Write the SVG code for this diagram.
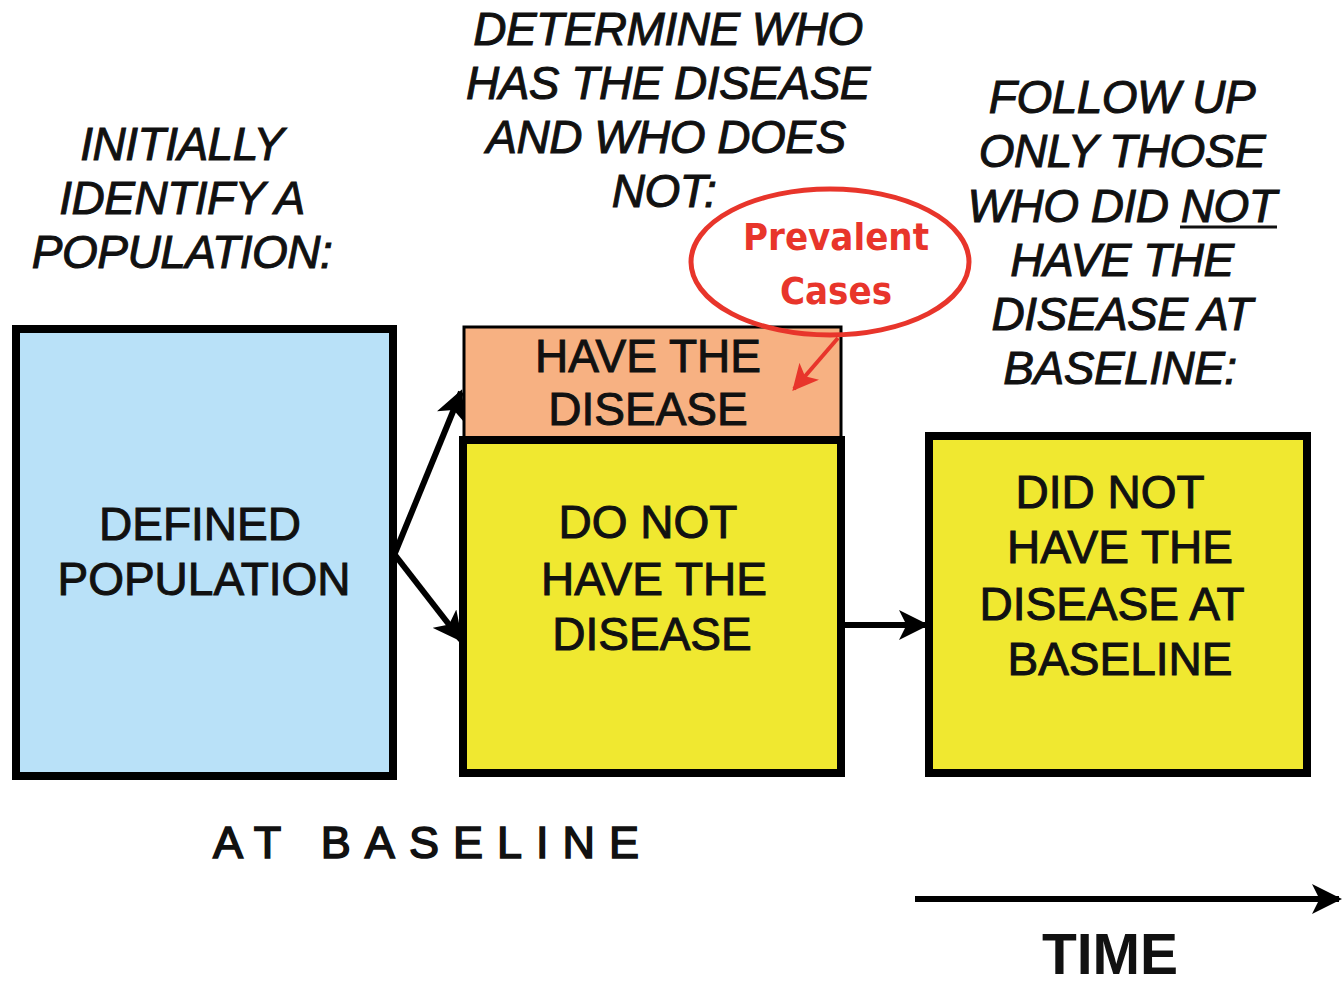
<svg xmlns="http://www.w3.org/2000/svg" width="1342" height="984" viewBox="0 0 1342 984">
<style>
.lbl{font-family:"Liberation Sans",Arial,sans-serif;font-size:46px;font-style:italic;fill:#111;stroke:#111;stroke-width:1;text-anchor:middle;letter-spacing:-0.5px}
.box{font-family:"Liberation Sans",Arial,sans-serif;font-size:46px;fill:#111;stroke:#111;stroke-width:1;text-anchor:middle}
.red{font-family:"DejaVu Sans Condensed","DejaVu Sans",sans-serif;font-weight:bold;font-size:38px;fill:#E8352B;text-anchor:middle}
.conn{stroke:#000;stroke-width:6;fill:none}
</style>
<defs>
<marker id="ah" viewBox="0 0 10 10" refX="9" refY="5" markerWidth="5" markerHeight="5" orient="auto" markerUnits="strokeWidth">
<path d="M0,0 L10,5 L0,10 L2.5,5 Z" fill="#000"/>
</marker>
<marker id="ahr" viewBox="0 0 10 10" refX="9" refY="5" markerWidth="6.5" markerHeight="6.5" orient="auto" markerUnits="strokeWidth">
<path d="M0,0 L10,5 L0,10 L2.5,5 Z" fill="#E8352B"/>
</marker>
</defs>
<rect width="1342" height="984" fill="#fff"/>

<g id="label-initially">
<text class="lbl" x="182" y="160">INITIALLY</text>
<text class="lbl" x="182" y="214">IDENTIFY A</text>
<text class="lbl" x="182" y="268">POPULATION:</text>
</g>
<g id="label-determine">
<text class="lbl" x="668" y="45">DETERMINE WHO</text>
<text class="lbl" x="668" y="99">HAS THE DISEASE</text>
<text class="lbl" x="666" y="153">AND WHO DOES</text>
<text class="lbl" x="664" y="207">NOT:</text>
</g>
<g id="label-follow">
<text class="lbl" x="1122" y="113">FOLLOW UP</text>
<text class="lbl" x="1122" y="167">ONLY THOSE</text>
<text class="lbl" x="1122" y="222">WHO DID NOT</text>
<line x1="1180" y1="227" x2="1277" y2="227" stroke="#111" stroke-width="3"/>
<text class="lbl" x="1122" y="276">HAVE THE</text>
<text class="lbl" x="1122" y="330">DISEASE AT</text>
<text class="lbl" x="1120" y="384">BASELINE:</text>
</g>

<g id="defined-population">
<rect x="16" y="329" width="377" height="447" fill="#B9E1F8" stroke="#000" stroke-width="8"/>
<text class="box" x="200" y="540">DEFINED</text>
<text class="box" x="204" y="595">POPULATION</text>
</g>
<g id="have-disease">
<rect x="464" y="327" width="377" height="112" fill="#F7B182" stroke="#000" stroke-width="3"/>
<text class="box" x="648" y="372">HAVE THE</text>
<text class="box" x="648" y="425">DISEASE</text>
</g>
<g id="do-not-have">
<rect x="463" y="440" width="378" height="333" fill="#F0E830" stroke="#000" stroke-width="8"/>
<text class="box" x="648" y="538">DO NOT</text>
<text class="box" x="654" y="595">HAVE THE</text>
<text class="box" x="652" y="650">DISEASE</text>
</g>
<g id="did-not-have">
<rect x="929" y="436" width="378" height="337" fill="#F0E830" stroke="#000" stroke-width="8"/>
<text class="box" x="1110" y="508">DID NOT</text>
<text class="box" x="1120" y="563">HAVE THE</text>
<text class="box" x="1112" y="620">DISEASE AT</text>
<text class="box" x="1120" y="675">BASELINE</text>
</g>
<g id="prevalent-cases">
<ellipse cx="830" cy="262" rx="139" ry="73" fill="none" stroke="#E8352B" stroke-width="5"/>
<text class="red" x="836" y="250">Prevalent</text>
<text class="red" x="836" y="304">Cases</text>
</g>

<g id="connectors">
<path class="conn" d="M395,553 L461,392" marker-end="url(#ah)"/>
<path class="conn" d="M395,555 L461,640" marker-end="url(#ah)"/>
<path class="conn" d="M843,625 L926,625" marker-end="url(#ah)"/>
<path d="M838,338 L794,389" stroke="#E8352B" stroke-width="4" fill="none" marker-end="url(#ahr)"/>
<path class="conn" d="M915,899 L1339,899" marker-end="url(#ah)"/>
</g>

<g id="footer">
<text x="213" y="858" font-family="Liberation Sans,Arial,sans-serif" font-size="45" stroke="#111" stroke-width="1.6" letter-spacing="14" fill="#111">AT BASELINE</text>
<text x="1110" y="974" font-family="Liberation Sans,Arial,sans-serif" font-weight="bold" font-size="57" text-anchor="middle" fill="#111">TIME</text>
</g>
</svg>
